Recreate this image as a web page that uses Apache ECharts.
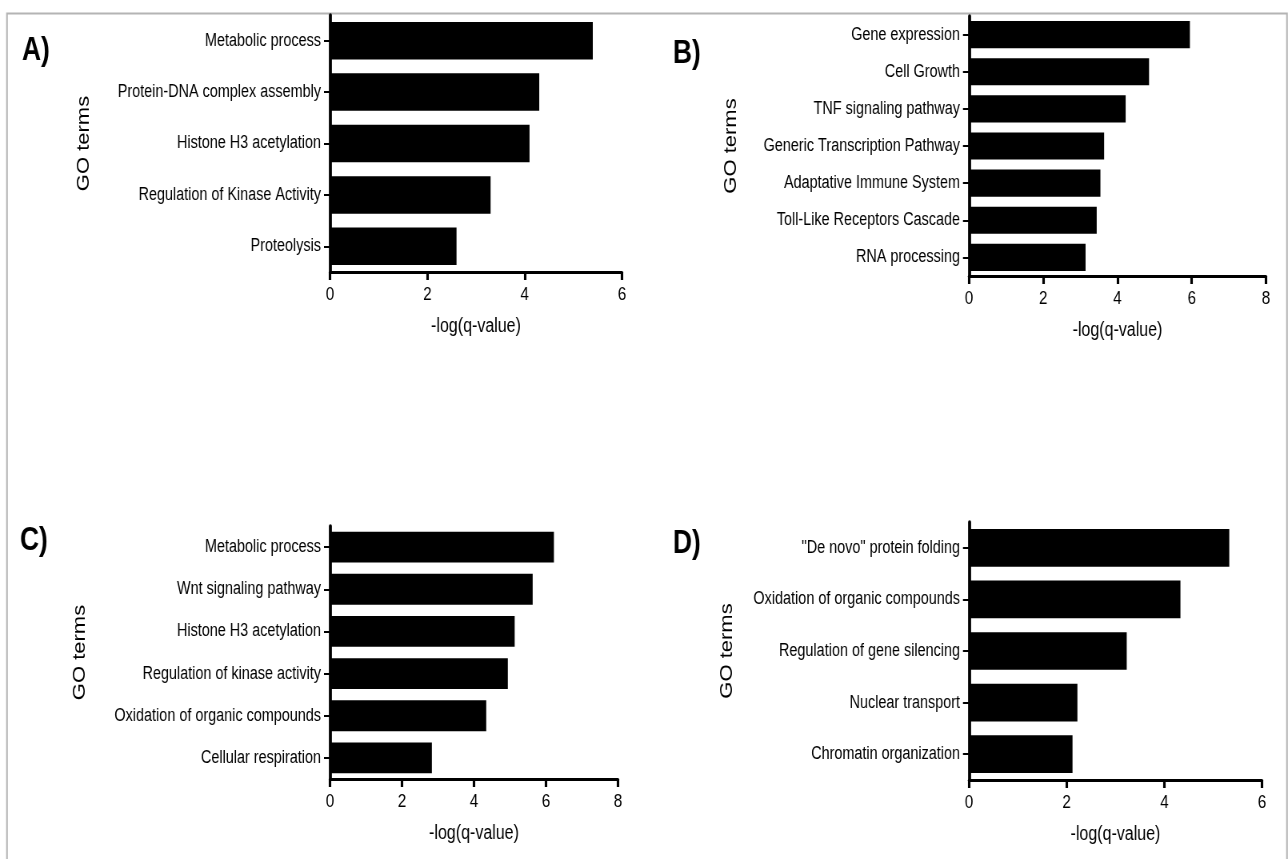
<!DOCTYPE html>
<html>
<head>
<meta charset="utf-8">
<title>GO term enrichment</title>
<script src="https://cdn.jsdelivr.net/npm/echarts@6/dist/echarts.min.js"></script>
<style>
  html, body { margin: 0; padding: 0; background: #ffffff; overflow: hidden; }
  #frame { width: 1288px; height: 859px; overflow: hidden; position: relative; }
  /* the figure is laid out wide and set horizontally condensed */
  #chart { width: 1610px; height: 859px; transform: scaleX(0.8); transform-origin: 0 0; }
</style>
</head>
<body>
<div id="frame"><div id="chart"></div></div>
<script>
// Panel A
const termsA = ['Metabolic process', 'Protein-DNA complex assembly', 'Histone H3 acetylation', 'Regulation of Kinase Activity', 'Proteolysis'];
const valuesA = [5.4, 4.3, 4.1, 3.3, 2.6];
const ticksA = [0, 2, 4, 6];

// Panel B
const termsB = ['Gene expression', 'Cell Growth', 'TNF signaling pathway', 'Generic Transcription Pathway', 'Adaptative Immune System', 'Toll-Like Receptors Cascade', 'RNA processing'];
const valuesB = [5.95, 4.85, 4.22, 3.64, 3.54, 3.44, 3.14];
const ticksB = [0, 2, 4, 6, 8];

// Panel C
const termsC = ['Metabolic process', 'Wnt signaling pathway', 'Histone H3 acetylation', 'Regulation of kinase activity', 'Oxidation of organic compounds', 'Cellular respiration'];
const valuesC = [6.22, 5.63, 5.13, 4.94, 4.34, 2.83];
const ticksC = [0, 2, 4, 6, 8];

// Panel D
const termsD = ['"De novo" protein folding', 'Oxidation of organic compounds', 'Regulation of gene silencing', 'Nuclear transport', 'Chromatin organization'];
const valuesD = [5.33, 4.33, 3.23, 2.22, 2.12];
const ticksD = [0, 2, 4, 6];

const panelLetters = ['A)', 'B)', 'C)', 'D)'];
const xAxisTitle = '-log(q-value)';
const yAxisTitle = 'GO terms';

const FONT = "'Liberation Sans', Arial, Helvetica, sans-serif";
const INK = '#000000';
const SX = 0.8; // horizontal condensing applied to the chart element
const px = v => v / SX; // on-screen x distance -> chart units

// plot box of each panel (on-screen pixels), GO-terms offset, letter position
const layout = [
  { left: 330, top: 15,  width: 292, height: 257, nameGap: 246, lx: 22,  ly: 52 },
  { left: 969, top: 16,  width: 297, height: 260, nameGap: 238, lx: 673, ly: 55 },
  { left: 330, top: 526, width: 288, height: 253, nameGap: 250, lx: 20,  ly: 542 },
  { left: 969, top: 522, width: 293, height: 258, nameGap: 242, lx: 673, ly: 545 }
];

const panels = [
  { terms: termsA, values: valuesA, ticks: ticksA },
  { terms: termsB, values: valuesB, ticks: ticksB },
  { terms: termsC, values: valuesC, ticks: ticksC },
  { terms: termsD, values: valuesD, ticks: ticksD }
];

const grid = [], xAxis = [], yAxis = [], series = [], graphic = [];

panels.forEach((p, i) => {
  const L = layout[i];
  const tickStep = p.ticks[1] - p.ticks[0];
  grid.push({ left: px(L.left), top: L.top, width: px(L.width), height: L.height, containLabel: false });

  xAxis.push({
    type: 'value', gridIndex: i,
    min: p.ticks[0], max: p.ticks[p.ticks.length - 1], interval: tickStep,
    name: xAxisTitle, nameLocation: 'middle', nameGap: 44, nameMoveOverlap: false,
    nameTextStyle: { fontFamily: FONT, fontSize: 20, color: INK },
    axisLine: { show: true, lineStyle: { color: '#000', width: 3 } },
    axisTick: { show: true, length: 8, lineStyle: { color: '#000', width: px(2.5) } },
    axisLabel: { margin: 13, fontFamily: FONT, fontSize: 19, color: INK },
    splitLine: { show: false }
  });

  yAxis.push({
    type: 'category', gridIndex: i, inverse: true, data: p.terms,
    name: yAxisTitle, nameLocation: 'middle', nameGap: px(L.nameGap), nameRotate: 90, nameMoveOverlap: false,
    nameTextStyle: { fontFamily: FONT, fontSize: 22, color: INK, align: 'center', verticalAlign: 'middle' },
    axisLine: { show: true, onZero: false, lineStyle: { color: '#000', width: px(3) } },
    axisTick: { show: true, alignWithLabel: true, length: px(6), lineStyle: { color: '#000', width: 2 } },
    axisLabel: { margin: px(9), fontFamily: FONT, fontSize: 18, color: INK },
    splitLine: { show: false }
  });

  series.push({
    type: 'bar', xAxisIndex: i, yAxisIndex: i, data: p.values,
    barCategoryGap: '27%',
    itemStyle: { color: '#000000' },
    silent: true
  });

  graphic.push({
    type: 'text', left: px(L.lx), top: L.ly - 18,
    style: { text: panelLetters[i], fontFamily: FONT, fontWeight: 'bold', fontSize: 33, fill: INK }
  });
});

// frame around the figure
graphic.push({
  type: 'rect', left: px(5), top: 11, z: -1,
  shape: { width: px(1280), height: 860 },
  style: { fill: 'none', stroke: '#b4b4b4', lineWidth: 2 }
});

const chart = echarts.init(document.getElementById('chart'), null, { renderer: 'canvas' });
chart.setOption({
  animation: false,
  backgroundColor: '#ffffff',
  grid, xAxis, yAxis, series, graphic
});
</script>
</body>
</html>
